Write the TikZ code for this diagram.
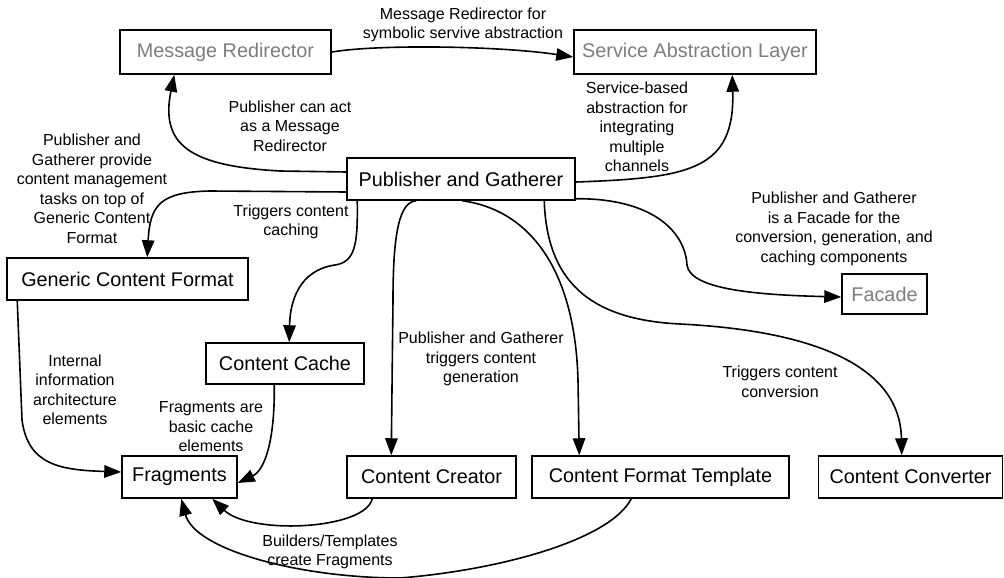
\documentclass[tikz,border=0pt]{standalone}
\usepackage{fontspec}
\setmainfont{Liberation Sans}
\usetikzlibrary{arrows.meta}
\definecolor{boxgray}{RGB}{125,125,125}
\tikzset{
  box/.style={draw=black, line width=1.5pt, fill=white, inner sep=0pt, minimum height=42pt,
    font=\fontsize{19.8}{22}\selectfont, text=black},
  graybox/.style={box, text=boxgray},
  lbl/.style={align=center, font=\fontsize{16}{19.5}\selectfont, inner sep=0pt},
  conn/.style={line width=1.6pt, -{Triangle[length=17pt,width=12.5pt]}}
}
\begin{document}
\begin{tikzpicture}[x=1pt,y=-1pt]
\useasboundingbox (0,0) rectangle (1004,578);

% boxes
\node[graybox, minimum width=211pt, minimum height=44pt] (mr) at (225.5,52) {Message Redirector};
\node[graybox, minimum width=242pt, minimum height=44pt] (sal) at (695,52) {Service Abstraction Layer};
\node[box, minimum width=228pt] (pg) at (461,179) {Publisher and Gatherer};
\node[box, minimum width=241pt] (gcf) at (127.5,279) {Generic Content Format};
\node[box, minimum width=158pt, minimum height=41pt] (cache) at (285,363.5) {Content Cache};
\node[box, minimum width=115pt] (frag) at (179.5,477) {Fragments};
\node[box, minimum width=169pt] (creator) at (431.5,477) {Content Creator};
\node[box, minimum width=257pt] (cft) at (660.5,477) {Content Format Template};
\node[box, minimum width=184pt] (conv) at (910.5,477) {Content Converter};
\node[graybox, minimum width=85pt, minimum height=40pt] (facade) at (884.5,294) {Facade};

% connectors
\draw[conn] ([yshift=7pt]pg.west) -- (280,171) .. controls (190,166) and (160,145) .. ([xshift=55pt]mr.south west);
\draw[conn] (mr.east) .. controls (380,44) and (500,46) .. ([yshift=-5pt]sal.west);
\draw[conn] ([yshift=-3pt]pg.east) .. controls (690,178) and (735,170) .. ([xshift=159pt]sal.south west);
\draw[conn] ([yshift=-13pt]pg.west) -- (210,191) .. controls (160,192) and (150,205) .. ([xshift=141pt]gcf.north west);
\draw[conn] ([xshift=11pt]pg.south west) .. controls (358,245) and (355,262) .. (335,265) .. controls (300,270) and (290,300) .. ([xshift=84pt]cache.north west);
\draw[conn] ([xshift=70pt]pg.south west) .. controls (400,202) and (393,230) .. (393,300) -- ([xshift=45pt]creator.north west);
\draw[conn] ([xshift=116pt]pg.south west) .. controls (530,210) and (575,270) .. (578,380) -- ([xshift=48pt]cft.north west);
\draw[conn] ([yshift=2pt]pg.south east) .. controls (650,198) and (685,230) .. (687,265) .. controls (690,290) and (760,295) .. ([yshift=-3pt]facade.west);
\draw[conn] ([xshift=198pt]pg.south west) .. controls (547,290) and (600,320) .. (680,324) .. controls (800,330) and (900,360) .. ([xshift=84pt]conv.north west);
\draw[conn] ([xshift=11pt]gcf.south west) -- (22,420) .. controls (28,465) and (60,470) .. ([yshift=5pt]frag.west);
\draw[conn] ([xshift=69pt]cache.south west) .. controls (275,440) and (265,470) .. ([yshift=-6pt]frag.east);
\draw[conn] ([xshift=26pt]creator.south west) .. controls (365,530) and (250,535) .. ([xshift=91pt]frag.south west);
\draw[conn] ([xshift=100pt]cft.south west) .. controls (610,540) and (500,570) .. (400,578) .. controls (300,578) and (195,550) .. ([xshift=60pt]frag.south west);

% labels
\node[lbl] (l1) at (463,25) {Message Redirector for\\symbolic servive abstraction};
\node[lbl] (l2) at (290,126) {Publisher can act\\as a Message\\Redirector};
\node[lbl] (l3) at (637,127) {Service-based\\abstraction for\\integrating\\multiple\\channels};
\node[lbl] (l4) at (92,189) {Publisher and\\Gatherer provide\\content management\\tasks on top of\\Generic Content\\Format};
\node[lbl] (l5) at (291,222) {Triggers content\\caching};
\node[lbl] (l6) at (481,359) {Publisher and Gatherer\\triggers content\\generation};
\node[lbl] (l7) at (834,229) {Publisher and Gatherer\\is a Facade for the\\conversion, generation, and\\caching components};
\node[lbl] (l8) at (780,382) {Triggers content\\conversion};
\node[lbl] (l9) at (75,390) {Internal\\information\\architecture\\elements};
\node[lbl] (l10) at (211,427) {Fragments are\\basic cache\\elements};
\node[lbl] (l11) at (330,552) {Builders/Templates\\create Fragments};
\end{tikzpicture}
\end{document}
